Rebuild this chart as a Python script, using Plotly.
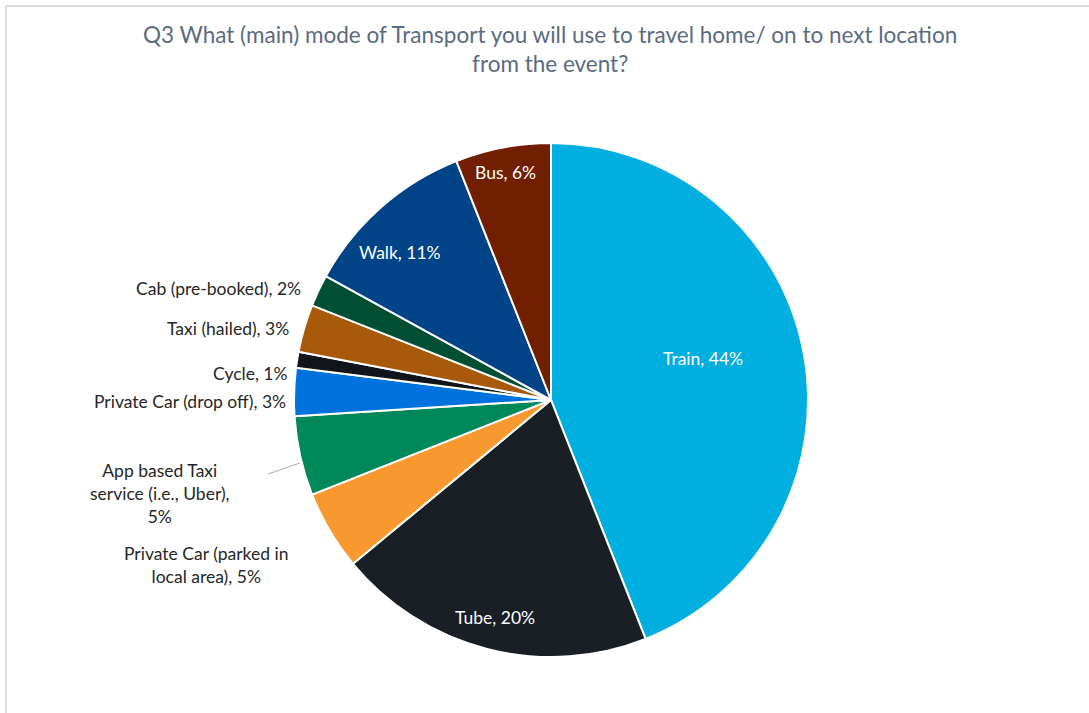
import plotly.graph_objects as go

# Survey answers, clockwise from 12 o'clock
modes = [
    "Train", "Tube", "Private Car (parked in local area)", "App based Taxi service (i.e., Uber)",
    "Private Car (drop off)", "Cycle", "Taxi (hailed)", "Cab (pre-booked)", "Walk", "Bus",
]
shares = [44, 20, 5, 5, 3, 1, 3, 2, 11, 6]
colors = [
    "#00AEDF", "#1A1E25", "#F7992F", "#00875A", "#0072DE",
    "#11151B", "#A85A0A", "#004F35", "#004386", "#721E00",
]

# Where a mode name wraps onto several lines
line_breaks = {
    "Private Car (parked in local area)": "Private Car (parked in<br>local area)",
    "App based Taxi service (i.e., Uber)": "App based Taxi<br>service (i.e., Uber),<br>",
}

# Label placement in page pixels: (x, y, xanchor, inside the slice?)
label_layout = {
    "Train": (703, 358, "center", True),
    "Tube": (495, 617, "center", True),
    "Private Car (parked in local area)": (206, 565, "center", False),
    "App based Taxi service (i.e., Uber)": (160, 493, "center", False),
    "Private Car (drop off)": (288, 401, "right", False),
    "Cycle": (290, 373, "right", False),
    "Taxi (hailed)": (291, 328, "right", False),
    "Cab (pre-booked)": (303, 288, "right", False),
    "Walk": (400, 252, "center", True),
    "Bus": (505, 172, "center", True),
}

FONT = "Lato"
LABEL_SIZE = 17.5
W, H = 1089, 713
cx, cy, r = 551, 400, 257


def px(x, y):
    return x / W, 1 - y / H


fig = go.Figure(go.Pie(
    labels=modes,
    values=shares,
    textinfo="none",
    sort=False,
    direction="clockwise",
    rotation=0,
    marker=dict(colors=colors, line=dict(color="white", width=2)),
    showlegend=False,
    hoverinfo="label+percent",
    domain=dict(x=[(cx - r) / W, (cx + r) / W], y=[1 - (cy + r) / H, 1 - (cy - r) / H]),
))

annotations = [dict(
    text="Q3 What (main) mode of Transport you will use to travel home/ on to next location<br>from the event?",
    x=550 / W, y=1 - 19 / H, xref="paper", yref="paper",
    xanchor="center", yanchor="top", showarrow=False, align="center",
    font=dict(family=FONT, size=22.5, color="#5B6B80"),
)]

for mode, share in zip(modes, shares):
    x, y, anchor, inside = label_layout[mode]
    name = line_breaks.get(mode, mode)
    sep = "" if name.endswith("<br>") else ", "
    ax, ay = px(x, y)
    annotations.append(dict(
        text=f"{name}{sep}{share}%",
        x=ax, y=ay, xref="paper", yref="paper",
        xanchor=anchor, yanchor="middle", showarrow=False, align="center",
        font=dict(family=FONT, size=LABEL_SIZE, color="white" if inside else "#262626"),
    ))

# Leader line for the app-based taxi label
lx0, ly0 = px(268, 474)
lx1, ly1 = px(300, 463)

fig.update_layout(
    width=W, height=H,
    margin=dict(l=0, r=0, t=0, b=0),
    paper_bgcolor="white",
    plot_bgcolor="white",
    annotations=annotations,
    shapes=[
        dict(type="line", xref="paper", yref="paper", x0=6 / W, x1=1, y0=1 - 6 / H, y1=1 - 6 / H,
             line=dict(color="#D9DEE6", width=2)),
        dict(type="line", xref="paper", yref="paper", x0=6 / W, x1=6 / W, y0=0, y1=1 - 6 / H,
             line=dict(color="#D9DEE6", width=2)),
        dict(type="line", xref="paper", yref="paper", x0=lx0, x1=lx1, y0=ly0, y1=ly1,
             line=dict(color="#A3AEBD", width=1)),
    ],
)

fig.write_html("out.html")
